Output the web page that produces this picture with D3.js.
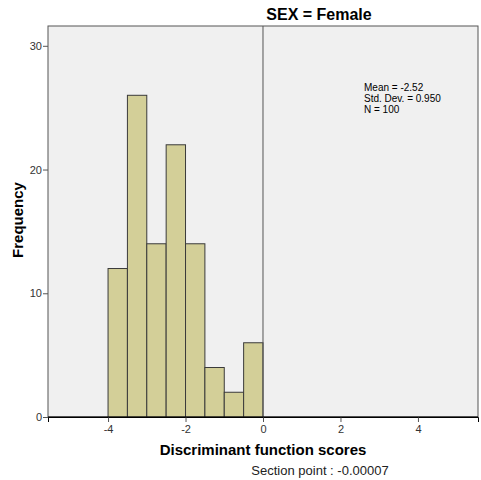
<!DOCTYPE html>
<html>
<meta charset="utf-8">
<head>
<style>
body { margin: 0; background: #fff; }
text { font-family: Arial, "Liberation Sans", sans-serif; }
.tick text { font-size: 11px; fill: #333; }
</style>
</head>
<body>
<script src="https://cdnjs.cloudflare.com/ajax/libs/d3/7.8.5/d3.min.js"></script>
<script>
// histogram bins (width 0.5) and counts
var binStarts = [-4, -3.5, -3, -2.5, -2, -1.5, -1, -0.5];
var counts = [12, 26, 14, 22, 14, 4, 2, 6];
var binWidth = 0.5;
var xTicks = [-4, -2, 0, 2, 4];
var yTicks = [0, 10, 20, 30];
var statLines = ["Mean = -2.52", "Std. Dev. = 0.950", "N = 100"];
var sectionPoint = -0.00007;

var margin = {top: 26, right: 3, bottom: 63, left: 48},
    width = 481 - margin.left - margin.right,
    height = 480 - margin.top - margin.bottom;

var svg = d3.select("body").append("svg")
    .attr("width", 481)
    .attr("height", 480);

var g = svg.append("g")
    .attr("transform", "translate(" + margin.left + "," + margin.top + ")");

var x = d3.scaleLinear().domain([-5.55, 5.55]).range([0, width]);
var y = d3.scaleLinear().domain([0, 31.6]).range([height, 0]);

// plot background
g.append("rect")
    .attr("width", width).attr("height", height)
    .style("fill", "#f0f0f0")
    .style("stroke", "#555");

// bars
g.selectAll(".bar")
  .data(binStarts).enter()
  .append("rect")
    .attr("class", "bar")
    .attr("x", d => x(d))
    .attr("width", x(binWidth) - x(0))
    .attr("y", (d, i) => y(counts[i]))
    .attr("height", (d, i) => y(0) - y(counts[i]))
    .style("fill", "#d3cf98")
    .style("stroke", "#3a3a3a")
    .style("stroke-width", 1);

// section point line
g.append("line")
    .attr("x1", x(sectionPoint)).attr("x2", x(sectionPoint))
    .attr("y1", 0).attr("y2", height)
    .style("stroke", "#555")
    .style("stroke-width", 1);

// axes (plain hyphen for negatives, like the original)
var xAxis = g.append("g")
    .attr("transform", "translate(0," + height + ")")
    .call(d3.axisBottom(x).tickValues(xTicks).tickSize(5).tickFormat(d => String(d)));
xAxis.select(".domain").style("stroke", "#000");
xAxis.selectAll(".tick line").style("stroke", "#555");

var yAxis = g.append("g")
    .call(d3.axisLeft(y).tickValues(yTicks).tickSize(5).tickFormat(d => String(d)));
yAxis.select(".domain").remove();
yAxis.selectAll(".tick line").style("stroke", "#555");
yAxis.selectAll(".tick text").attr("x", -6);

// baseline
g.append("line")
    .attr("x1", 0).attr("x2", width)
    .attr("y1", height).attr("y2", height)
    .style("stroke", "#000");

// stats box text
g.append("text")
    .attr("x", 316)
    .attr("y", 65)
    .style("font-size", "10px")
    .selectAll("tspan")
    .data(statLines).enter()
    .append("tspan")
      .attr("x", 316)
      .attr("dy", (d, i) => i === 0 ? 0 : 11)
      .text(d => d);

// title
svg.append("text")
    .attr("x", 319).attr("y", 20)
    .style("text-anchor", "middle")
    .style("font-size", "16px")
    .style("font-weight", "bold")
    .text("SEX = Female");

// axis titles
svg.append("text")
    .attr("transform", "translate(23,220) rotate(-90)")
    .style("text-anchor", "middle")
    .style("font-size", "15px")
    .style("font-weight", "bold")
    .text("Frequency");

svg.append("text")
    .attr("x", 263).attr("y", 455)
    .style("text-anchor", "middle")
    .style("font-size", "15px")
    .style("font-weight", "bold")
    .text("Discriminant function scores");

svg.append("text")
    .attr("x", 320).attr("y", 475)
    .style("text-anchor", "middle")
    .style("font-size", "13px")
    .style("fill", "#222")
    .text("Section point : " + sectionPoint.toFixed(5));
</script>
</body>
</html>
